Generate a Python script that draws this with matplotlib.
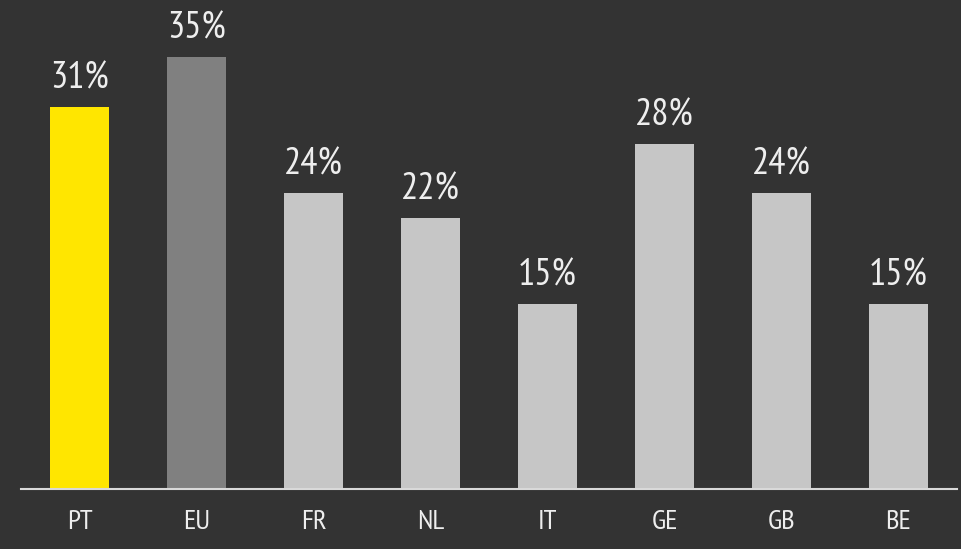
import matplotlib.pyplot as plt

# data
countries = ["PT", "EU", "FR", "NL", "IT", "GE", "GB", "BE"]
shares = [31, 35, 24, 22, 15, 28, 24, 15]
bar_colors = ["#FFE600", "#808080", "#C6C6C6", "#C6C6C6",
              "#C6C6C6", "#C6C6C6", "#C6C6C6", "#C6C6C6"]

BG = "#333333"
TXT = "#EEEEEE"
plt.rcParams["font.family"] = ["PT Sans Narrow", "DejaVu Sans"]

W, H = 961, 549
fig = plt.figure(figsize=(W / 100, H / 100), dpi=100, facecolor=BG)
ax = fig.add_axes([21 / W, (H - 489) / H, 936 / W, 489 / H], facecolor=BG)

x = range(len(countries))
ax.bar(x, shares, width=0.5, color=bar_colors, zorder=2)

for xi, v in zip(x, shares):
    ax.annotate(f"{v}%", (xi, v), xytext=(0, 13.5), textcoords="offset points",
                ha="center", va="baseline", fontsize=27.5, color=TXT)

ax.set_xlim(-0.5, len(countries) - 0.5)
ax.set_ylim(0, 489 / 12.33)
ax.set_xticks(list(x))
ax.set_xticklabels(countries, fontsize=20.5, color=TXT)
ax.set_yticks([])
ax.tick_params(axis="x", length=0, pad=15)

for side in ["top", "left", "right"]:
    ax.spines[side].set_visible(False)
ax.spines["bottom"].set_color("#D9D9D9")
ax.spines["bottom"].set_linewidth(1.5)

fig.savefig("out.png", dpi=100, facecolor=BG)
